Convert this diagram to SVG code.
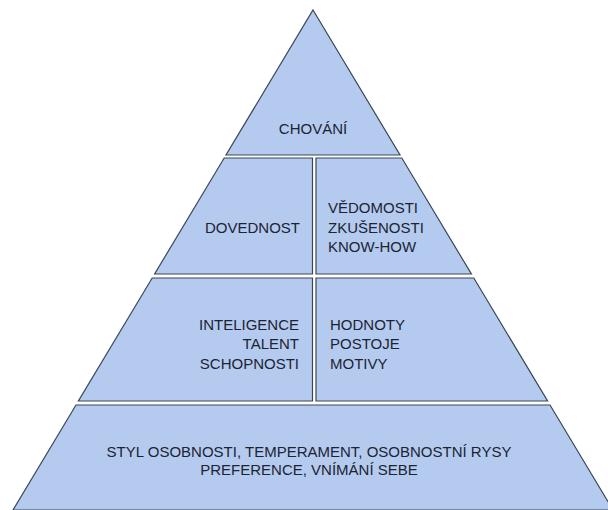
<svg xmlns="http://www.w3.org/2000/svg" width="608" height="510" viewBox="0 0 608 510">
<style>
.cell{fill:#b4cbef;stroke:#3a4656;stroke-width:1.2;stroke-linejoin:miter}
.t{font-family:"Liberation Sans",Arial,sans-serif;font-size:15px;fill:#1c2333}
.m{text-anchor:middle}
.e{text-anchor:end}
.s{text-anchor:start}
</style>
<rect width="608" height="510" fill="#ffffff"/>
<g id="chovani">
<polygon class="cell" points="313,10 400,155 226,155"/>
<text class="t m" x="313" y="134">CHOVÁNÍ</text>
</g>
<g id="dovednost">
<polygon class="cell" points="224.2,158 312.5,158 312.5,274 154.6,274"/>
<text class="t e" x="300" y="233">DOVEDNOST</text>
</g>
<g id="vedomosti">
<polygon class="cell" points="316,158 401.8,158 471.4,274 316,274"/>
<text class="t s" x="328" y="213">VĚDOMOSTI</text>
<text class="t s" x="328" y="233">ZKUŠENOSTI</text>
<text class="t s" x="328" y="252">KNOW-HOW</text>
</g>
<g id="inteligence">
<polygon class="cell" points="152.2,278 312.5,278 312.5,401 78.4,401"/>
<text class="t e" x="299" y="330">INTELIGENCE</text>
<text class="t e" x="299" y="349">TALENT</text>
<text class="t e" x="299" y="369">SCHOPNOSTI</text>
</g>
<g id="hodnoty">
<polygon class="cell" points="316,278 473.8,278 547.6,401 316,401"/>
<text class="t s" x="330" y="330">HODNOTY</text>
<text class="t s" x="330" y="349">POSTOJE</text>
<text class="t s" x="330" y="369">MOTIVY</text>
</g>
<g id="styl">
<polygon class="cell" points="76,405 550,405 613,510 13,510"/>
<text class="t m" x="309" y="457">STYL OSOBNOSTI, TEMPERAMENT, OSOBNOSTNÍ RYSY</text>
<text class="t m" x="309" y="475">PREFERENCE, VNÍMÁNÍ SEBE</text>
</g>
<g id="connectors"/>
</svg>
